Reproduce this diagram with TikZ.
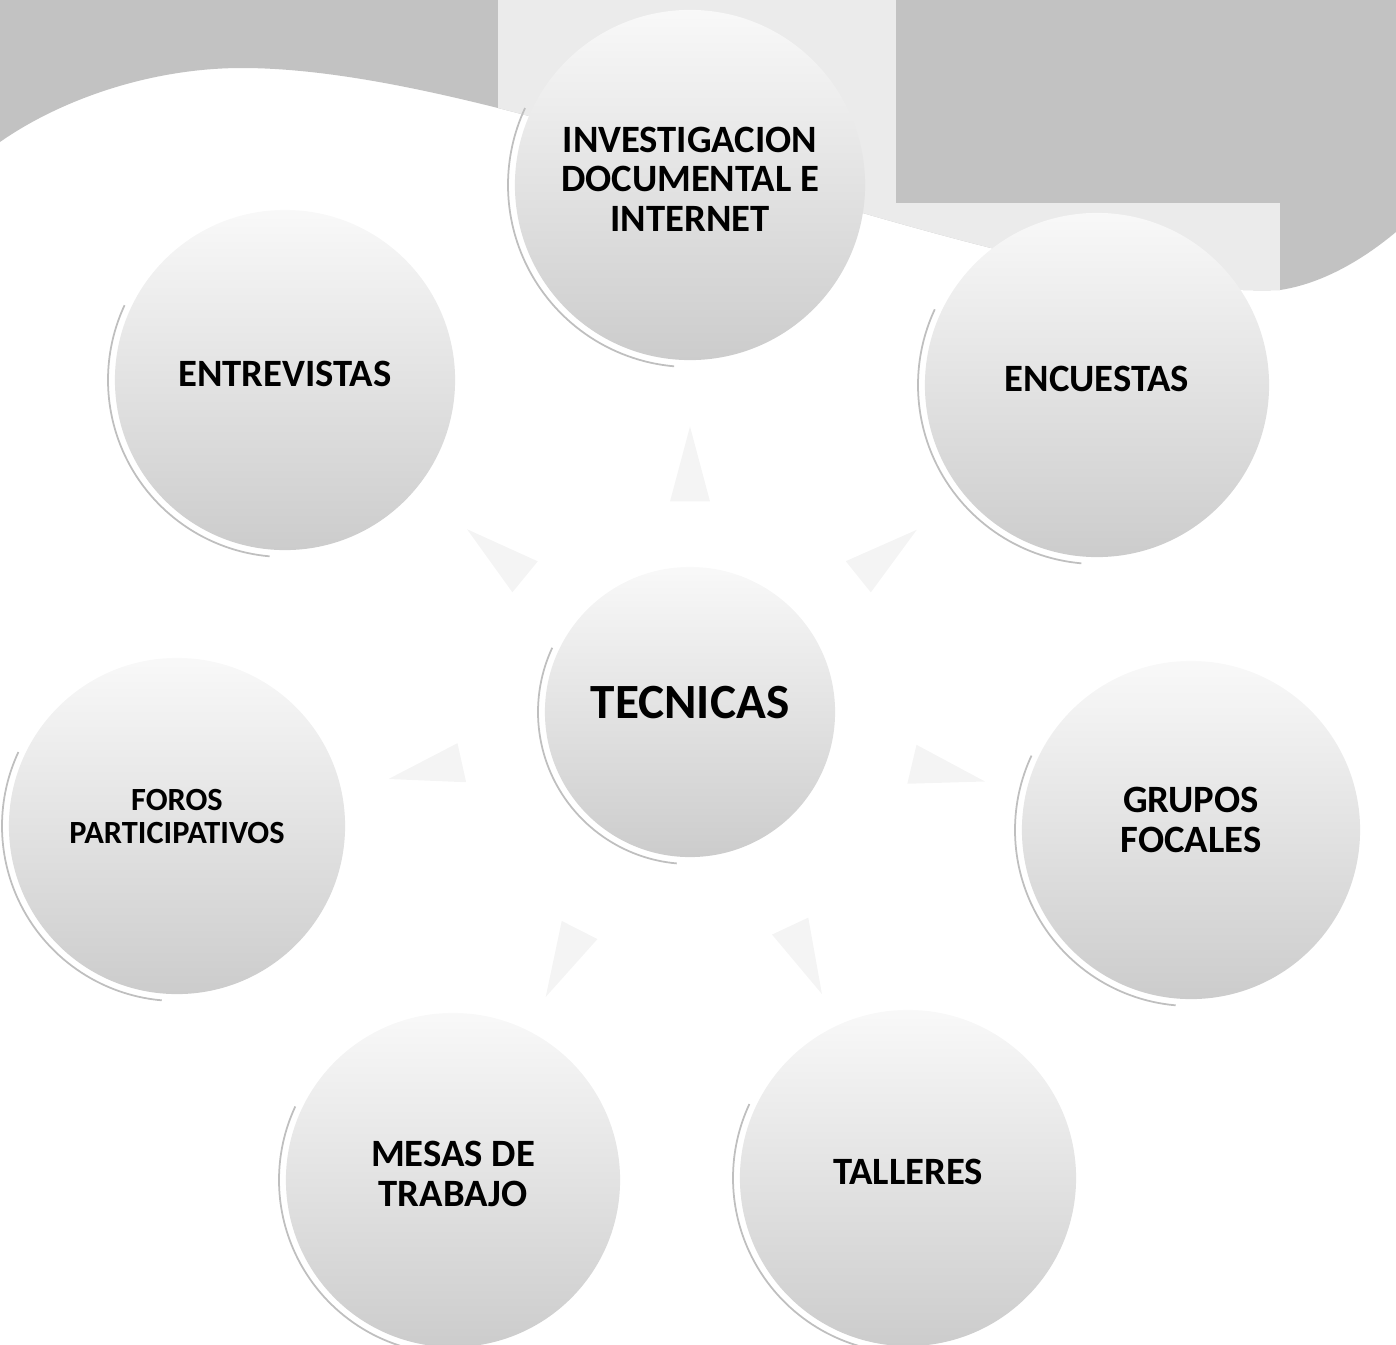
\documentclass[tikz,border=0pt]{standalone}
\usepackage{fontspec}
\setmainfont{Carlito}
\usetikzlibrary{shapes.geometric}

\newcommand{\ola}{(0,0) -- (1396,0) -- (1396,232) .. controls (1360,262) and (1320,284) .. (1280,290) .. controls (1000,300) and (520,68) .. (242,68) .. controls (150,68) and (60,100) .. (0,142) -- cycle}

\tikzset{
	bola/.style={circle, inner sep=0pt, top color=gray!5, bottom color=gray!40, font=\bfseries\fontsize{11}{11.2}\selectfont, align=center, text depth=0.12cm},
	flecha/.style={isosceles triangle, isosceles triangle stretches, inner sep=0pt, minimum width=0.4cm, minimum height=0.75cm, fill=gray!9, sloped, allow upside down},
	anillo/.style={gray!50, line width=0.5pt}
}

\begin{document}
\begin{tikzpicture}[x=0.01cm, y=-0.01cm]
	\useasboundingbox (0,0) rectangle (1396,1345);
	% banda de arriba
	\fill[gray!48] \ola;
	\begin{scope}
		\clip \ola;
		\fill[gray!16] (498,0) rectangle (896,360);
		\fill[gray!16] (896,203) rectangle (1280,320);
	\end{scope}

	\node[bola, minimum size=3.5cm] (inv) at (690,185) {INVESTIGACION\\DOCUMENTAL E\\INTERNET};
	\node[bola, minimum size=3.4cm] (ent) at (285,380) {ENTREVISTAS};
	\node[bola, minimum size=3.44cm] (enc) at (1097,385) {ENCUESTAS};
	\node[bola, minimum size=2.9cm, font=\bfseries\fontsize{14}{14}\selectfont, text depth=0.2cm] (tec) at (690,712) {TECNICAS};
	\node[bola, minimum size=3.36cm, font=\bfseries\fontsize{9.2}{9.4}\selectfont, text depth=0.2cm] (foros) at (177,826) {FOROS\\PARTICIPATIVOS};
	\node[bola, minimum size=3.38cm, text depth=0.2cm] (grupos) at (1191,830) {GRUPOS\\FOCALES};
	\node[bola, minimum size=3.34cm] (mesas) at (453,1180) {MESAS DE\\TRABAJO};
	\node[bola, minimum size=3.36cm] (talleres) at (908,1178) {TALLERES};

	\foreach \n/\r in {inv/175, ent/170, enc/172, tec/145, foros/168, grupos/169, mesas/167, talleres/168}
		\draw[anillo] (\n.center) ++(95:\r+7) arc[start angle=95, end angle=205, radius=\r+7];

	% flechas apenas visibles
	\foreach \n/\p in {inv/0.39, ent/0.4, enc/0.42, foros/0.49, grupos/0.49, mesas/0.54, talleres/0.53}
		\path (tec) -- (\n) node[flecha, pos=\p] {};
\end{tikzpicture}
\end{document}
